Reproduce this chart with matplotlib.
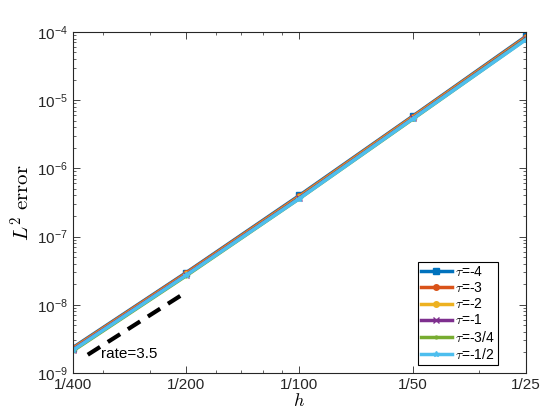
import numpy as np
import matplotlib
matplotlib.use("Agg")
from matplotlib import pyplot as plt
from matplotlib.ticker import FixedLocator, LogLocator, NullFormatter, FuncFormatter

# mesh sizes and errors
h = [1/400, 1/200, 1/100, 1/50, 1/25]
h_labels = ['1/400', '1/200', '1/100', '1/50', '1/25']

err_m4 = [2.35e-9, 2.95e-8, 4.0e-7, 5.8e-6, 8.6e-5]
err_m3 = [2.3e-9, 2.9e-8, 3.9e-7, 5.7e-6, 8.4e-5]
err_m2 = [2.25e-9, 2.8e-8, 3.8e-7, 5.55e-6, 8.2e-5]
err_m1 = [2.2e-9, 2.75e-8, 3.7e-7, 5.4e-6, 8.0e-5]
err_m34 = [2.1e-9, 2.65e-8, 3.6e-7, 5.25e-6, 7.8e-5]
err_m12 = [2.15e-9, 2.7e-8, 3.6e-7, 5.3e-6, 7.7e-5]

tau_labels = ['-4', '-3', '-2', '-1', '-3/4', '-1/2']

# reference slope line
ref_h = [1/365, 1/205]
ref_err = [1.85e-9, 1.4e-8]

plt.rcParams['font.family'] = ['Liberation Sans', 'DejaVu Sans']
plt.rcParams['mathtext.fontset'] = 'cm'

colors = ['#0072BD', '#D95319', '#EDB120', '#7E2F8E', '#77AC30', '#4DBEEE']
markers = ['s', 'o', 'o', 'x', '.', '*']
series = [err_m4, err_m3, err_m2, err_m1, err_m34, err_m12]

fig = plt.figure(figsize=(5.6, 4.2), dpi=100)
ax = fig.add_axes([0.130, 0.112, 0.809, 0.812])

for err, c, m, t in zip(series, colors, markers, tau_labels):
    ax.loglog(h, err, color=c, marker=m, markersize=4, linewidth=2.5,
              label=r'$\tau$=' + t)

ax.loglog(ref_h, ref_err, 'k--', linewidth=3, dashes=(3.5, 2.2))
ax.text(0.00298, 1.9e-9, 'rate=3.5', fontsize=11, ha='left', va='center')

ax.set_xlim(1/400, 1/25)
ax.set_ylim(1e-9, 1e-4)

ax.xaxis.set_major_locator(FixedLocator(h))
ax.set_xticklabels(h_labels)
ax.xaxis.set_minor_locator(LogLocator(base=10, subs=np.arange(2, 10)))
ax.xaxis.set_minor_formatter(NullFormatter())

ax.yaxis.set_major_locator(LogLocator(base=10, numticks=10))
ax.yaxis.set_major_formatter(FuncFormatter(lambda v, p: r'$\mathregular{10^{%d}}$' % round(np.log10(v))))
ax.yaxis.set_minor_locator(LogLocator(base=10, subs=np.arange(2, 10), numticks=20))
ax.yaxis.set_minor_formatter(NullFormatter())

ax.tick_params(which='both', direction='in', top=True, right=True, labelsize=11, colors='#262626')
ax.tick_params(which='major', length=5, width=0.6)
ax.tick_params(which='minor', length=2.5, width=0.5)
for s in ax.spines.values():
    s.set_linewidth(0.8)
    s.set_color('#262626')

ax.set_xlabel(r'$h$', fontsize=13, labelpad=1)
ax.set_ylabel(r'$L^2\ \mathrm{error}$', fontsize=15, labelpad=2)

leg = ax.legend(loc='lower right', bbox_to_anchor=(0.938, 0.023), borderaxespad=0,
                fontsize=10, handlelength=2.2, handletextpad=0.2,
                labelspacing=0.15, borderpad=0.25, fancybox=False, framealpha=1)
leg.get_frame().set_edgecolor('black')
leg.get_frame().set_linewidth(0.8)

fig.savefig('out.png', dpi=100)
